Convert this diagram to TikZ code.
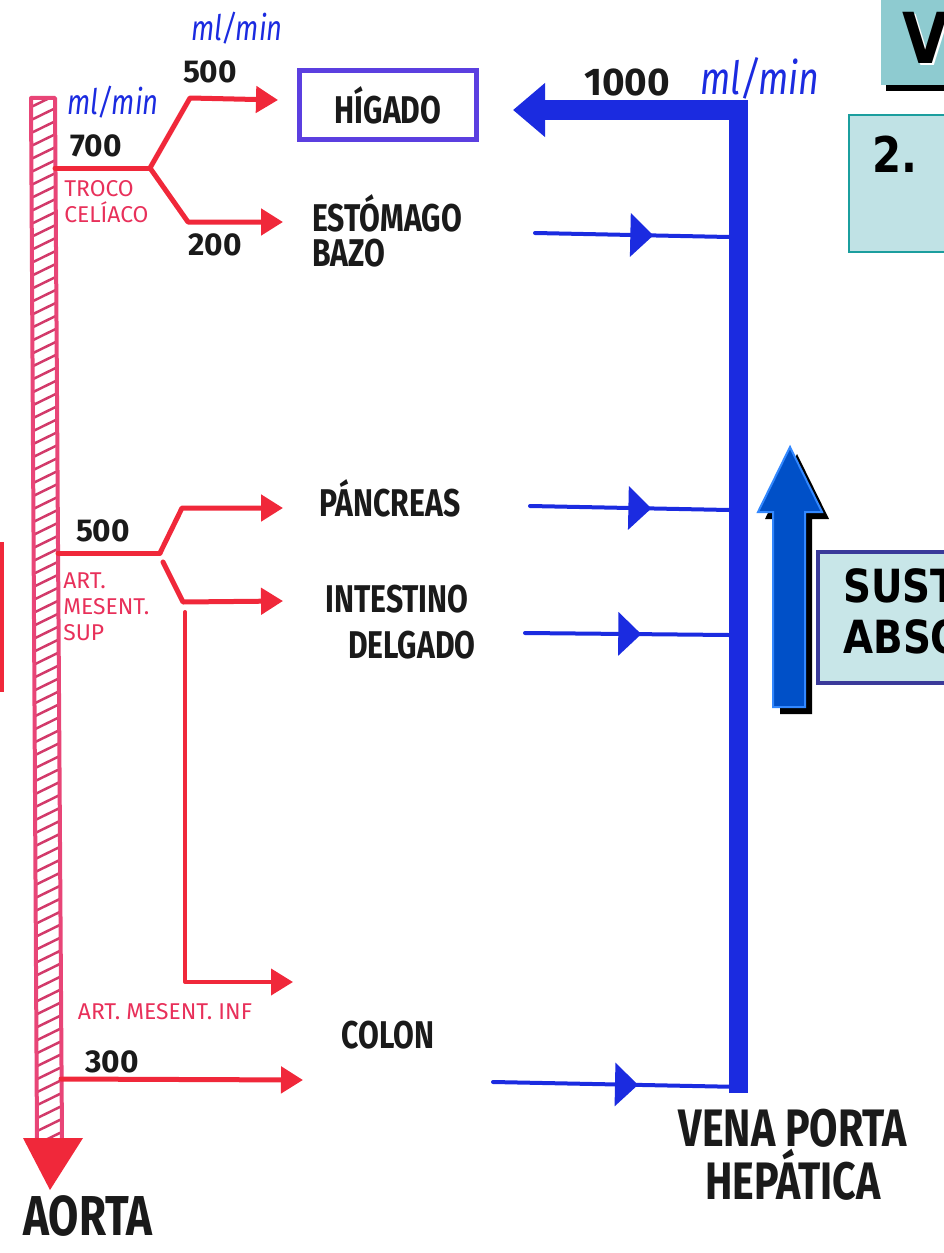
\documentclass[tikz,border=0pt]{standalone}
\usepackage{fontspec}
\setmainfont{Fira Sans}
\newfontfamily\handfont{Fira Sans}[FakeStretch=0.78]
\newfontfamily\slidefont{DejaVu Sans}[FakeStretch=0.85]
\usepackage{xcolor}
\usepackage{tikz}
\usetikzlibrary{calc,arrows.meta,decorations.markings}
\definecolor{ink}{HTML}{1A1A1A}
\definecolor{artred}{HTML}{F0283A}
\definecolor{labred}{HTML}{E8305A}
\definecolor{wallpink}{HTML}{E84577}
\definecolor{hatchpink}{HTML}{D23A6A}
\definecolor{veinblue}{HTML}{1B2BE0}
\definecolor{liverblue}{HTML}{5B3FE0}
\definecolor{tealtop}{HTML}{8ECBD0}
\definecolor{teallight}{HTML}{C0E2E5}
\definecolor{tealedge}{HTML}{1B9E9E}
\definecolor{sustfill}{HTML}{C8E6E8}
\definecolor{sustedge}{HTML}{3A3A9A}
\definecolor{upblue}{HTML}{0050C8}
\definecolor{upedge}{HTML}{3388FF}
\tikzset{
  branch/.style={draw=artred, line width=1mm, line cap=round, line join=round},
  artery/.style={branch, -{Triangle[length=4.4mm,width=5.2mm]}},
  aortawall/.style={draw=wallpink, line width=0.8mm, line join=round},
  hatch/.style={draw=hatchpink, line width=0.5mm, line cap=round},
  portal/.style={draw=veinblue, line width=3.8mm, line join=miter, -{Triangle[length=6.4mm,width=10.4mm]}},
  feeder/.style={draw=veinblue, line width=0.8mm, line cap=round, postaction={decorate},
    decoration={markings, mark=at position #1 with {\arrow{Triangle[length=4.6mm,width=8.6mm]}}}},
  organ/.style={text=ink, inner sep=0pt, font=\handfont\bfseries\fontsize{22}{20}\selectfont},
  bighand/.style={text=ink, inner sep=0pt, font=\handfont\bfseries\fontsize{32}{32}\selectfont},
  flow/.style={text=ink, inner sep=0pt, font=\bfseries\fontsize{18}{18}\selectfont},
  rate/.style={text=veinblue, inner sep=0pt, font=\handfont\itshape\fontsize{20}{20}\selectfont},
  vessel/.style={text=labred, inner sep=0pt, align=left, font=\fontsize{13}{15}\selectfont},
  slide/.style={text=black, inner sep=0pt, font=\slidefont\bfseries\fontsize{26}{29}\selectfont},
}
\begin{document}
\begin{tikzpicture}[x=0.2mm,y=-0.2mm]
  \useasboundingbox (0,0) rectangle (944,1253);
  \clip (0,0) rectangle (944,1253);

  % aorta
  \coordinate (aortaTL) at (31,98);
  \coordinate (aortaTR) at (55,98);
  \coordinate (aortaBR) at (62,1140);
  \coordinate (aortaBL) at (37,1140);
  \begin{scope}
    \clip (aortaTL) -- (aortaTR) -- (aortaBR) -- (aortaBL) -- cycle;
    \foreach \y in {100,113,...,1160}
      \draw[hatch] (25,\y+10) -- (70,\y-12);
  \end{scope}
  \draw[aortawall] (aortaTL) -- (aortaTR) -- (aortaBR) -- (aortaBL) -- cycle;
  \fill[artred] (23,1138) -- (83,1138) -- (50,1190) -- cycle;
  \node[bighand] (aorta) at (88,1216) {AORTA};

  % organs
  \node[organ, draw=liverblue, line width=1mm, minimum width=35.4mm, minimum height=13.6mm] (liver) at (388,105) {HÍGADO};
  \node[organ, anchor=north west, align=left] (stomach) at (312,194) {ESTÓMAGO\\BAZO};
  \node[organ] (pancreas) at (390,498) {PÁNCREAS};
  \node[organ, align=center, font=\handfont\bfseries\fontsize{22}{26}\selectfont] (intestine) at (397,622) {INTESTINO\\\hspace*{6mm}DELGADO};
  \node[organ] (colon) at (388,1035) {COLON};

  % tronco celiaco
  \coordinate (celStart) at (55,168);
  \coordinate (celFork) at (150,168);
  \coordinate (celUp) at (190,98);
  \coordinate (celDown) at (188,222);
  \coordinate (toLiver) at (278,100);
  \coordinate (toStomach) at (283,222);
  \draw[branch] (celStart) -- (celFork);
  \draw[artery] (celFork) -- (celUp) -- (toLiver);
  \draw[artery] (celFork) -- (celDown) -- (toStomach);
  \node[rate] (rateA) at (237,28) {ml/min};
  \node[flow] (liverFlow) at (210,72) {500};
  \node[rate] (rateB) at (113,102) {ml/min};
  \node[flow] (celFlow) at (96,146) {700};
  \node[flow] (stomachFlow) at (215,245) {200};
  \node[vessel, anchor=north west] (celName) at (64,180) {TROCO\\CELÍACO};

  % mesenterica superior
  \coordinate (smaStart) at (58,553);
  \coordinate (smaFork) at (160,553);
  \coordinate (smaUp) at (182,508);
  \coordinate (smaDown) at (183,602);
  \coordinate (toPancreas) at (283,508);
  \coordinate (toIntestine) at (283,601);
  \coordinate (colicTop) at (185,612);
  \coordinate (toColonUp) at (293,982);
  \draw[branch] (smaStart) -- (smaFork);
  \draw[artery] (smaFork) -- (smaUp) -- (toPancreas);
  \draw[artery] ($(smaFork)+(3,9)$) -- (smaDown) -- (toIntestine);
  \draw[artery, line width=0.8mm] (colicTop) |- (toColonUp);
  \node[flow] (smaFlow) at (103,531) {500};
  \node[vessel, anchor=north west] (smaName) at (63,572) {ART.\\MESENT.\\SUP};

  % mesenterica inferior
  \coordinate (imaStart) at (61,1079);
  \coordinate (toColon) at (303,1080);
  \draw[artery] (imaStart) -- (toColon);
  \node[vessel] (imaName) at (165,1012) {ART. MESENT. INF};
  \node[flow] (imaFlow) at (112,1062) {300};

  % vena porta
  \coordinate (veinFoot) at (738,1093);
  \coordinate (toLiverVein) at (513,110);
  \draw[portal] (veinFoot) |- (toLiverVein);
  \coordinate (fromStomach) at (535,233);
  \coordinate (stomachIn) at (729,237);
  \coordinate (fromPancreas) at (530,506);
  \coordinate (pancreasIn) at (729,510);
  \coordinate (fromIntestine) at (525,633);
  \coordinate (intestineIn) at (729,635);
  \coordinate (fromColon) at (493,1082);
  \coordinate (colonIn) at (743,1087);
  \draw[feeder=0.61] (fromStomach) -- (stomachIn);
  \draw[feeder=0.61] (fromPancreas) -- (pancreasIn);
  \draw[feeder=0.57] (fromIntestine) -- (intestineIn);
  \draw[feeder=0.58] (fromColon) -- (colonIn);
  \node[flow, font=\bfseries\fontsize{22}{22}\selectfont] (portalFlow) at (627,82) {1000};
  \node[rate, font=\handfont\itshape\fontsize{26}{26}\selectfont] (portalRate) at (760,78) {ml/min};
  \node[bighand, align=center, font=\handfont\bfseries\fontsize{30}{26}\selectfont] (portalName) at (793,1155) {VENA PORTA\\HEPÁTICA};

  % absorcion
  \fill[black] (797,454) -- (829,519) -- (812,519) -- (812,714) -- (780,714) -- (780,519) -- (765,519) -- cycle;
  \filldraw[fill=upblue, draw=upedge, line width=0.4mm] (790,447) -- (822,512) -- (805,512) -- (805,707) -- (773,707) -- (773,512) -- (758,512) -- cycle;
  \draw[draw=sustedge, fill=sustfill, line width=0.7mm] (818,552) rectangle (960,683);
  \node[slide, anchor=north west, align=left] (sustText) at (843,568) {SUST\\ABSO};

  % cabecera
  \fill[black] (886,6) rectangle (960,91);
  \fill[tealtop] (881,0) rectangle (960,85);
  \node[slide, text=white, anchor=west, font=\slidefont\bfseries\fontsize{40}{40}\selectfont] at (904,40) {V};
  \node[slide, anchor=west, font=\slidefont\bfseries\fontsize{40}{40}\selectfont] (title) at (902,38) {V};
  \draw[draw=tealedge, fill=teallight, line width=0.5mm] (849,115) rectangle (960,252);
  \node[slide, anchor=west, font=\slidefont\bfseries\fontsize{28}{28}\selectfont] (point) at (872,154) {2.};
  \draw[draw=artred, line width=0.6mm] (-20,543) rectangle (2,690);
\end{tikzpicture}
\end{document}
